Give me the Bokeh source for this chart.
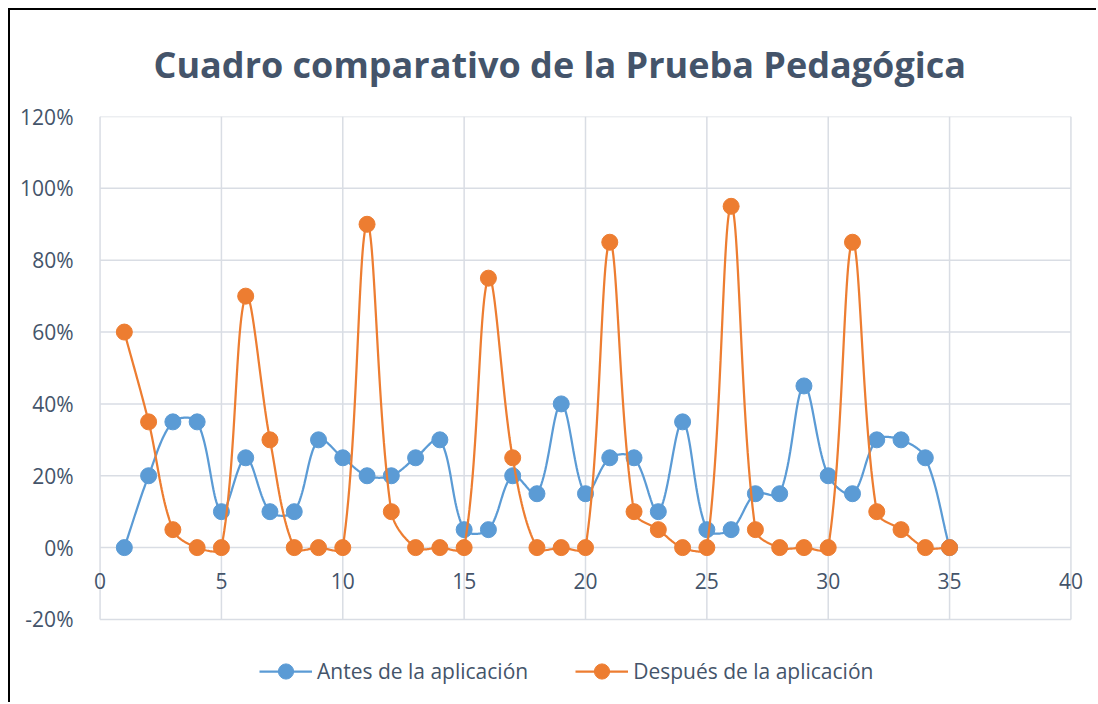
import numpy as np
from bokeh.plotting import figure
from bokeh.models import Range1d, NumeralTickFormatter, Legend, LegendItem, FixedTicker
from bokeh.core.properties import value
from bokeh.embed import file_html
from bokeh.resources import INLINE

# ---- data ----
x_vals = list(range(1, 36))
antes = [0, 20, 35, 35, 10, 25, 10, 10, 30, 25, 20, 20, 25, 30, 5, 5, 20, 15, 40, 15,
         25, 25, 10, 35, 5, 5, 15, 15, 45, 20, 15, 30, 30, 25, 0]
despues = [60, 35, 5, 0, 0, 70, 30, 0, 0, 0, 90, 10, 0, 0, 0, 75, 25, 0, 0, 0,
           85, 10, 5, 0, 0, 95, 5, 0, 0, 0, 85, 10, 5, 0, 0]
series_names = ["Antes de la aplicación", "Después de la aplicación"]
x_ticks = [0, 5, 10, 15, 20, 25, 30, 35, 40]
x_tick_labels = [str(t) for t in x_ticks]
y_ticks = [-0.2, 0, 0.2, 0.4, 0.6, 0.8, 1.0, 1.2]
title_text = "Cuadro comparativo de la  Prueba Pedagógica"

BLUE = "#5B9BD5"
ORANGE = "#ED7D31"
TXT = "#44546A"
GRID = "#D9DDE4"
FONT = "Open Sans"

X_PAD = 0.6      # extra room so end tick labels are not clipped
Y_PAD = 0.22     # extra room below the plot for the legend
PX_X, PX_Y = 24.25, 360.0   # approx pixels per data unit (for smoothing weights)


def smooth(xs, ys, steps=30):
    """Excel-like smoothed line: cubic Bezier with segment-length weighted tangents."""
    P = np.column_stack([np.asarray(xs, float), np.asarray(ys, float)])
    n = len(P)
    ext = np.vstack([P[0], P, P[-1]])
    scale = np.array([PX_X, PX_Y])
    out = []
    t = np.linspace(0, 1, steps)[:, None]
    for i in range(n - 1):
        p0, p1, p2, p3 = ext[i], ext[i + 1], ext[i + 2], ext[i + 3]
        d01 = np.linalg.norm((p1 - p0) * scale)
        d12 = np.linalg.norm((p2 - p1) * scale)
        d23 = np.linalg.norm((p3 - p2) * scale)
        f1 = d12 / (d01 + d12) / 3.0 if d01 + d12 > 0 else 0
        f2 = d12 / (d12 + d23) / 3.0 if d12 + d23 > 0 else 0
        c1 = p1 + (p2 - p0) * f1
        c2 = p2 - (p3 - p1) * f2
        seg = ((1 - t) ** 3) * p1 + 3 * ((1 - t) ** 2) * t * c1 + 3 * (1 - t) * t ** 2 * c2 + t ** 3 * p2
        if i > 0:
            seg = seg[1:]
        out.append(seg)
    pts = np.vstack(out)
    return pts[:, 0], pts[:, 1]


p = figure(width=1088, height=694, output_backend="svg", toolbar_location=None,
           x_range=Range1d(x_ticks[0] - X_PAD, x_ticks[-1] + X_PAD),
           y_range=Range1d(y_ticks[0] - Y_PAD, y_ticks[-1]),
           min_border_left=75, min_border_right=13, min_border_top=105, min_border_bottom=6)
p.styles = {"margin-left": "8px", "margin-top": "8px",
            "border-left": "2px solid #000", "border-top": "2px solid #000"}

p.title.text = title_text
p.title.align = "left"
p.title.offset = 68
p.title.standoff = 55
p.title.text_font = FONT
p.title.text_font_size = "36px"
p.title.text_font_style = "bold"
p.title.text_color = TXT

p.outline_line_color = None
p.xgrid.grid_line_color = None
p.ygrid.grid_line_color = None
p.xaxis.visible = False

p.yaxis.ticker = FixedTicker(ticks=y_ticks)
p.yaxis.formatter = NumeralTickFormatter(format="0%")
p.yaxis.major_tick_line_color = None
p.yaxis.minor_tick_line_color = None
p.yaxis.major_label_text_font = FONT
p.yaxis.major_label_text_font_size = "21px"
p.yaxis.major_label_text_color = TXT
p.yaxis.axis_line_color = None
p.yaxis.major_label_standoff = 6

# grid limited to the plot area (0..40, -20%..120%)
p.segment(x0=[x_ticks[0]] * len(y_ticks), x1=[x_ticks[-1]] * len(y_ticks), y0=y_ticks, y1=y_ticks,
          line_color=GRID, line_width=1.5)
p.segment(x0=x_ticks, x1=x_ticks, y0=[y_ticks[0]] * len(x_ticks), y1=[y_ticks[-1]] * len(x_ticks),
          line_color=GRID, line_width=1.5)

# x-axis labels sit under the 0 line (axis crosses at y = 0)
p.text(x=x_ticks, y=[0] * len(x_ticks), text=x_tick_labels, y_offset=33,
       text_align="center", text_baseline="middle", text_font=value(FONT),
       text_font_size="21px", text_color=TXT)

items = []
for name, vals, col in zip(series_names, [antes, despues], [BLUE, ORANGE]):
    yv = [v / 100 for v in vals]
    sx, sy = smooth(x_vals, yv)
    lr = p.line(sx, sy, line_color=col, line_width=2.25)
    sr = p.scatter(x_vals, yv, size=16, fill_color=col, line_color=col)
    items.append(LegendItem(label=name, renderers=[lr, sr]))

legend = Legend(items=items, orientation="horizontal", location=(174, 8),
                glyph_width=53, glyph_height=38, label_standoff=5, spacing=47,
                label_text_font=FONT, label_text_font_size="21px", label_text_color=TXT,
                border_line_color=None, background_fill_alpha=0, margin=0, padding=0)
p.add_layout(legend, "center")

open("out.html", "w").write(file_html(p, INLINE))
